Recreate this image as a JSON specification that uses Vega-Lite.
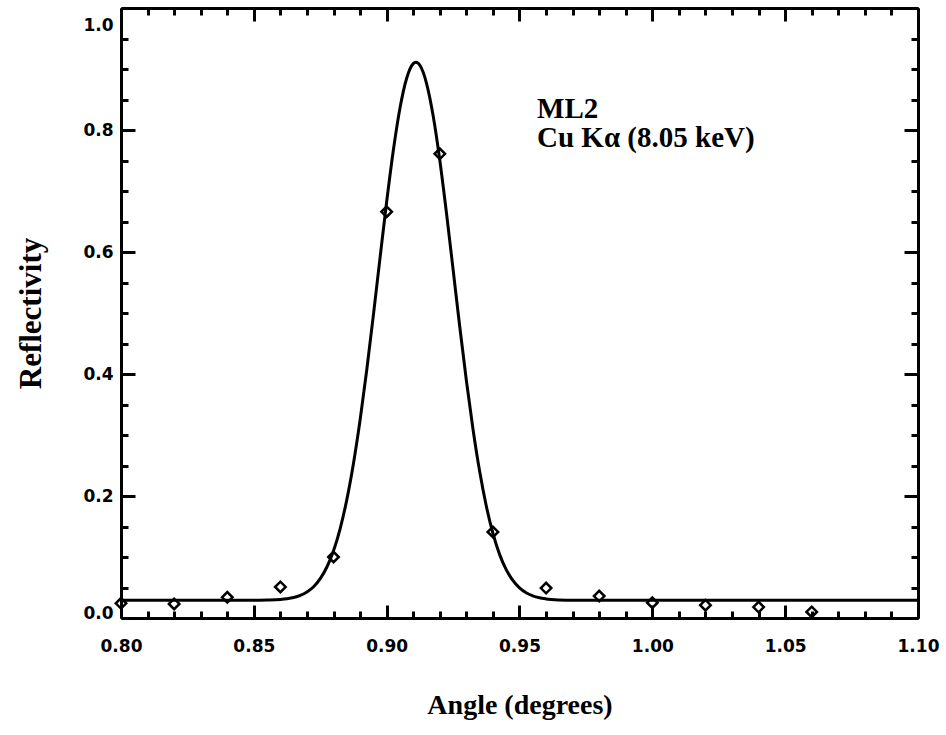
{
  "$schema": "https://vega.github.io/schema/vega-lite/v6.json",
  "width": 797,
  "height": 610,
  "autosize": {"type": "none"},
  "padding": {"left": 121, "top": 8, "right": 28, "bottom": 117},
  "background": "white",
  "config": {
    "view": {"stroke": null},
    "axis": {"grid": false, "domainColor": "black", "domainWidth": 3, "tickColor": "black", "tickWidth": 3, "labelColor": "black", "titleColor": "black", "zindex": 1}
  },
  "resolve": {"axis": {"x": "independent", "y": "independent"}},
  "layer": [
    {
      "data": {"values": [
        {"a": 0.80, "r": 0.029}, {"a": 0.85, "r": 0.029}, {"a": 0.855, "r": 0.0294},
        {"a": 0.86, "r": 0.0304}, {"a": 0.8625, "r": 0.0316}, {"a": 0.865, "r": 0.0336},
        {"a": 0.8675, "r": 0.0371}, {"a": 0.87, "r": 0.0427}, {"a": 0.8725, "r": 0.0513},
        {"a": 0.875, "r": 0.0645}, {"a": 0.8775, "r": 0.0836}, {"a": 0.88, "r": 0.1104},
        {"a": 0.8825, "r": 0.1467}, {"a": 0.885, "r": 0.194}, {"a": 0.8875, "r": 0.2533},
        {"a": 0.89, "r": 0.3245}, {"a": 0.8925, "r": 0.4065}, {"a": 0.895, "r": 0.4965},
        {"a": 0.8975, "r": 0.5903}, {"a": 0.90, "r": 0.6824}, {"a": 0.9025, "r": 0.7664},
        {"a": 0.905, "r": 0.8357}, {"a": 0.9075, "r": 0.8845}, {"a": 0.91, "r": 0.9088},
        {"a": 0.911, "r": 0.911}, {"a": 0.9125, "r": 0.9061}, {"a": 0.915, "r": 0.8766},
        {"a": 0.9175, "r": 0.8233}, {"a": 0.92, "r": 0.7505}, {"a": 0.9225, "r": 0.6644},
        {"a": 0.925, "r": 0.5714}, {"a": 0.9275, "r": 0.4779}, {"a": 0.93, "r": 0.3894},
        {"a": 0.9325, "r": 0.3095}, {"a": 0.935, "r": 0.2404}, {"a": 0.9375, "r": 0.1836},
        {"a": 0.94, "r": 0.1386}, {"a": 0.9425, "r": 0.1043}, {"a": 0.945, "r": 0.0792},
        {"a": 0.9475, "r": 0.0615}, {"a": 0.95, "r": 0.0493}, {"a": 0.9525, "r": 0.0413},
        {"a": 0.955, "r": 0.0363}, {"a": 0.9575, "r": 0.0331}, {"a": 0.96, "r": 0.0313},
        {"a": 0.965, "r": 0.0296}, {"a": 0.97, "r": 0.029}, {"a": 1.10, "r": 0.029}
      ]},
      "mark": {"type": "line", "color": "black", "strokeWidth": 3, "interpolate": "monotone"},
      "encoding": {
        "x": {"field": "a", "type": "quantitative", "scale": {"domain": [0.8, 1.1], "nice": false, "zero": false},
          "axis": {"orient": "bottom", "values": [0.8, 0.85, 0.9, 0.95, 1.0, 1.05, 1.1], "tickSize": -13, "labelPadding": 33, "format": ".2f",
            "labelFont": "DejaVu Sans", "labelFontWeight": "bold", "labelFontSize": 17, "labelFlush": false, "labelOverlap": false,
            "title": "Angle (degrees)", "titleFont": "Liberation Serif", "titleFontSize": 28, "titleFontWeight": "bold", "titlePadding": 37}},
        "y": {"field": "r", "type": "quantitative", "scale": {"domain": [0, 1], "nice": false, "zero": false},
          "axis": {"orient": "left", "values": [0, 0.2, 0.4, 0.6, 0.8, 1.0], "tickSize": -14, "labelPadding": 22, "format": ".1f",
            "labelFont": "DejaVu Sans", "labelFontWeight": "bold", "labelFontSize": 17, "labelFlush": false, "labelOverlap": false,
            "labelOffset": {"condition": {"test": "datum.value == 1", "value": 17}, "value": 0},
            "labelBaseline": {"condition": {"test": "datum.value == 0", "value": "alphabetic"}, "value": "middle"},
            "title": "Reflectivity", "titleFont": "Liberation Serif", "titleFontSize": 31, "titleFontWeight": "bold", "titlePadding": 35}}
      }
    },
    {
      "data": {"values": [
        {"a": 0.80, "r": 0.024}, {"a": 0.82, "r": 0.023}, {"a": 0.84, "r": 0.034},
        {"a": 0.86, "r": 0.051}, {"a": 0.88, "r": 0.100}, {"a": 0.90, "r": 0.666},
        {"a": 0.92, "r": 0.761}, {"a": 0.94, "r": 0.141}, {"a": 0.96, "r": 0.049},
        {"a": 0.98, "r": 0.036}, {"a": 1.00, "r": 0.025}, {"a": 1.02, "r": 0.021},
        {"a": 1.04, "r": 0.018}, {"a": 1.06, "r": 0.010}
      ]},
      "mark": {"type": "point", "shape": "diamond", "filled": false, "stroke": "black", "strokeWidth": 2.5, "size": 110, "opacity": 1},
      "encoding": {
        "x": {"field": "a", "type": "quantitative", "scale": {"domain": [0.8, 1.1], "nice": false, "zero": false},
          "axis": {"orient": "bottom", "values": [0.81, 0.82, 0.83, 0.84, 0.86, 0.87, 0.88, 0.89, 0.91, 0.92, 0.93, 0.94, 0.96, 0.97, 0.98, 0.99, 1.01, 1.02, 1.03, 1.04, 1.06, 1.07, 1.08, 1.09],
            "tickSize": -7, "labels": false, "domain": false, "title": null}},
        "y": {"field": "r", "type": "quantitative", "scale": {"domain": [0, 1], "nice": false, "zero": false},
          "axis": {"orient": "left", "values": [0.05, 0.1, 0.15, 0.25, 0.3, 0.35, 0.45, 0.5, 0.55, 0.65, 0.7, 0.75, 0.85, 0.9, 0.95],
            "tickSize": -7, "labels": false, "domain": false, "title": null}}
      }
    },
    {
      "data": {"values": [{}]},
      "mark": {"type": "text", "text": "ML2", "font": "Liberation Serif", "fontWeight": "bold", "fontSize": 29, "align": "left", "baseline": "alphabetic", "color": "black"},
      "encoding": {
        "x": {"datum": 0.9566, "type": "quantitative", "scale": {"domain": [0.8, 1.1], "nice": false, "zero": false},
          "axis": {"orient": "top", "values": [0.8, 0.85, 0.9, 0.95, 1.0, 1.05, 1.1], "tickSize": -13, "labels": false, "title": null}},
        "y": {"datum": 0.8197, "type": "quantitative", "scale": {"domain": [0, 1], "nice": false, "zero": false},
          "axis": {"orient": "right", "values": [0, 0.2, 0.4, 0.6, 0.8, 1.0], "tickSize": -14, "labels": false, "title": null}}
      }
    },
    {
      "data": {"values": [{}]},
      "mark": {"type": "text", "text": "Cu Kα (8.05 keV)", "font": "Liberation Serif", "fontWeight": "bold", "fontSize": 29, "align": "left", "baseline": "alphabetic", "color": "black"},
      "encoding": {
        "x": {"datum": 0.9566, "type": "quantitative", "scale": {"domain": [0.8, 1.1], "nice": false, "zero": false},
          "axis": {"orient": "top", "values": [0.81, 0.82, 0.83, 0.84, 0.86, 0.87, 0.88, 0.89, 0.91, 0.92, 0.93, 0.94, 0.96, 0.97, 0.98, 0.99, 1.01, 1.02, 1.03, 1.04, 1.06, 1.07, 1.08, 1.09],
            "tickSize": -7, "labels": false, "domain": false, "title": null}},
        "y": {"datum": 0.772, "type": "quantitative", "scale": {"domain": [0, 1], "nice": false, "zero": false},
          "axis": {"orient": "right", "values": [0.05, 0.1, 0.15, 0.25, 0.3, 0.35, 0.45, 0.5, 0.55, 0.65, 0.7, 0.75, 0.85, 0.9, 0.95],
            "tickSize": -7, "labels": false, "domain": false, "title": null}}
      }
    }
  ]
}
